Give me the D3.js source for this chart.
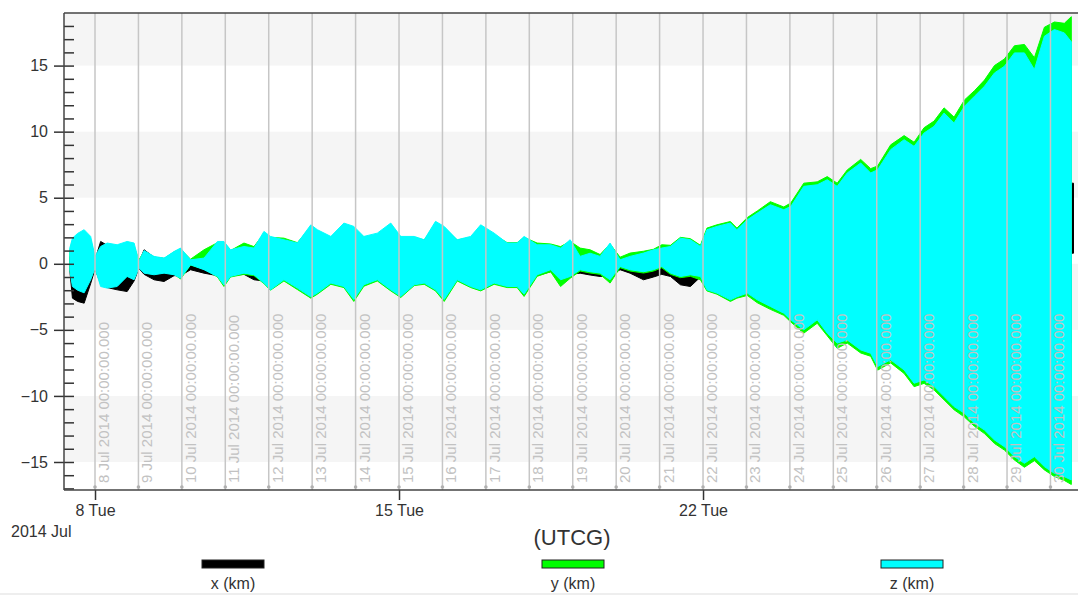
<!DOCTYPE html>
<html>
<head>
<meta charset="utf-8">
<script src="https://cdn.jsdelivr.net/npm/d3@7"></script>
<style>
  body { margin: 0; background: #fff; }
  svg { display: block; font-family: Arial, "Liberation Sans", sans-serif; }
</style>
</head>
<body>
<div id="chart"></div>
<script>
// times are days after 8 Jul 2014 00:00 UTCG
var zDays = [-0.58, -0.52, -0.40, -0.25, -0.10, 0.0, 0.13, 0.28, 0.51, 0.74, 0.90, 1.01, 1.13, 1.36, 1.59, 1.82, 1.97, 2.20, 2.51, 2.82, 2.97, 3.12, 3.43, 3.66, 3.89, 4.04, 4.35, 4.66, 4.97, 5.12, 5.43, 5.73, 5.96, 6.19, 6.50, 6.81, 7.04, 7.35, 7.58, 7.84, 8.04, 8.34, 8.65, 8.88, 9.19, 9.49, 9.72, 9.88, 10.18, 10.49, 10.72, 10.94, 11.17, 11.40, 11.63, 11.86, 12.09, 12.32, 12.63, 12.86, 13.05, 13.25, 13.48, 13.71, 13.94, 14.09, 14.32, 14.63, 14.78, 15.02, 15.25, 15.55, 15.86, 16.02, 16.32, 16.63, 16.86, 17.09, 17.32, 17.63, 17.86, 18.02, 18.32, 18.63, 18.86, 19.09, 19.32, 19.55, 19.78, 20.02, 20.25, 20.48, 20.71, 20.94, 21.17, 21.40, 21.63, 21.86, 22.09, 22.32, 22.48];

var zHigh = [1.2, 1.94, 2.3, 2.58, 2.07, 0.56, 1.31, 1.57, 1.44, 1.69, 1.57, 0.18, 1.0, 0.56, 0.43, 0.93, 1.19, 0.3, 0.43, 1.69, 1.69, 1.06, 1.31, 1.19, 2.45, 2.07, 1.82, 1.57, 2.95, 2.58, 2.07, 3.08, 2.83, 2.07, 2.32, 3.08, 2.07, 2.07, 1.82, 3.21, 2.83, 1.82, 2.07, 2.95, 2.32, 1.57, 1.57, 2.07, 1.44, 1.44, 1.19, 1.82, 0.56, 0.8, 0.56, 1.57, 0.3, 0.56, 0.81, 1.06, 1.19, 1.31, 1.94, 1.82, 1.31, 2.58, 2.83, 3.08, 2.58, 3.33, 3.84, 4.47, 4.09, 4.34, 5.86, 5.98, 6.36, 5.86, 6.87, 7.63, 6.87, 7.12, 8.64, 9.39, 8.89, 9.9, 10.4, 11.41, 10.66, 11.92, 12.68, 13.43, 14.44, 14.95, 15.96, 15.96, 14.7, 17.22, 17.73, 17.47, 16.8];
var zLow = [-0.5, -1.72, -2.0, -2.2, -1.21, -0.33, -1.72, -1.84, -1.72, -0.96, -1.21, -0.33, -0.71, -0.83, -0.71, -0.83, -1.09, -0.08, -0.45, -0.96, -1.6, -0.96, -0.71, -0.83, -1.46, -1.97, -1.21, -1.84, -2.5, -2.22, -1.46, -1.72, -2.7, -1.59, -1.21, -1.97, -2.47, -1.59, -1.46, -1.97, -2.7, -1.21, -1.72, -1.97, -1.46, -1.72, -1.72, -2.3, -0.83, -0.45, -1.21, -0.96, -0.45, -0.6, -0.7, -1.21, -0.2, -0.45, -0.6, -0.45, -0.2, -0.7, -0.96, -0.83, -0.96, -1.97, -2.22, -2.73, -2.5, -2.22, -2.73, -3.23, -3.74, -4.24, -5.0, -4.24, -5.25, -6.0, -5.76, -6.52, -6.77, -7.78, -7.27, -8.03, -9.04, -8.79, -9.29, -10.05, -10.81, -11.31, -12.07, -12.58, -13.33, -13.84, -14.6, -15.1, -14.6, -15.35, -15.86, -16.11, -16.36];

var yHigh = [1.0, 1.7, 2.0, 2.3, 1.8, 0.4, 1.1, 1.3, 1.2, 1.4, 1.3, 0.3, 0.9, 0.5, 0.4, 0.9, 1.1, 0.35, 1.06, 1.6, 1.6, 1.0, 1.57, 1.3, 2.3, 2.0, 1.94, 1.6, 2.8, 2.5, 2.0, 2.9, 2.7, 2.0, 2.2, 2.9, 2.0, 2.0, 1.8, 3.0, 2.7, 1.8, 2.0, 2.8, 2.2, 1.6, 1.6, 2.0, 1.57, 1.5, 1.3, 1.7, 1.19, 1.06, 0.7, 1.5, 0.5, 0.81, 0.95, 1.1, 1.44, 1.4, 2.0, 1.9, 1.4, 2.7, 2.95, 3.2, 2.7, 3.5, 4.0, 4.7, 4.3, 4.6, 6.1, 6.2, 6.6, 6.1, 7.1, 7.9, 7.2, 7.4, 9.0, 9.7, 9.2, 10.3, 10.8, 11.8, 11.1, 12.4, 13.1, 13.9, 15.0, 15.5, 16.5, 16.6, 15.6, 17.9, 18.3, 18.2, 18.7];
var yLow = [-0.4, -1.5, -1.8, -2.0, -1.1, -0.3, -1.5, -1.7, -1.6, -0.9, -1.1, -0.2, -0.6, -0.7, -0.6, -0.8, -1.15, -0.1, -0.4, -1.0, -1.72, -1.0, -0.8, -0.9, -1.5, -2.0, -1.3, -1.95, -2.6, -2.3, -1.55, -1.8, -2.85, -1.7, -1.3, -2.05, -2.55, -1.65, -1.55, -2.05, -2.85, -1.3, -1.8, -2.05, -1.55, -1.8, -1.8, -2.47, -0.95, -0.6, -1.72, -1.1, -0.55, -0.7, -0.8, -1.46, -0.3, -0.55, -0.7, -0.55, -0.3, -0.8, -1.05, -0.95, -1.21, -2.05, -2.3, -2.85, -2.6, -2.4, -2.95, -3.45, -3.9, -4.4, -5.25, -4.5, -5.45, -6.4, -6.0, -6.75, -7.0, -8.05, -7.5, -8.3, -9.3, -9.05, -9.55, -10.3, -11.05, -11.6, -12.3, -12.85, -13.6, -14.1, -14.85, -15.4, -14.9, -15.6, -16.1, -16.4, -16.7];

var xDays = [-0.58, -0.52, -0.40, -0.25, -0.10, 0.0, 0.13, 0.28, 0.51, 0.74, 0.90, 1.01, 1.13, 1.36, 1.59, 1.82, 1.97, 2.20, 2.51, 2.82, 3.12, 3.43, 3.66, 3.89, 4.04, 4.35, 4.66, 5.5, 6.5, 7.5, 8.5, 9.5, 10.18, 10.49, 10.72, 10.94, 11.17, 11.40, 11.63, 11.86, 12.09, 12.32, 12.63, 12.86, 13.05, 13.25, 13.48, 13.71, 13.94, 14.09, 14.32, 14.50, 14.63, 15.0, 17.0, 20.0, 22.48, 22.485, 22.53];
var xHigh = [0.5, 1.0, 1.0, 0.8, 0.5, 0.3, 1.69, 1.4, 1.2, 1.0, 0.8, 0.1, 1.06, 0.5, 0.4, 0.6, 0.8, 0.2, 0.3, 0.5, 0.6, 0.8, 0.8, 1.0, 1.0, 0.8, 0.8, 1.0, 1.0, 1.0, 1.0, 0.8, 0.6, 0.5, 0.5, 0.6, 0.4, 0.4, 0.4, 0.5, 0.2, 0.4, 0.5, 0.5, 0.5, 0.5, 0.8, 0.8, 0.8, 1.0, 1.0, 1.0, 1.0, 1.5, 3.0, 5.0, 6.0, 6.1, 6.1];
var xLow = [-0.5, -2.6, -2.85, -2.98, -1.5, -0.4, -1.5, -1.8, -1.97, -2.1, -1.3, -0.35, -0.8, -1.21, -1.34, -0.9, -0.9, -0.45, -0.71, -0.9, -0.9, -0.8, -1.21, -1.3, -1.72, -1.1, -1.5, -1.3, -1.2, -1.2, -1.1, -1.0, -0.9, -0.6, -1.0, -0.8, -0.71, -0.85, -0.96, -0.9, -0.45, -0.71, -1.21, -1.0, -0.8, -0.96, -1.59, -1.72, -1.0, -1.3, -2.1, -2.2, -2.0, -1.8, -3.0, -5.0, -6.0, 0.8, 0.8];

var series = [
  { name: "x (km)", color: "#000000", days: xDays, low: xLow, high: xHigh, legendX: 233 },
  { name: "y (km)", color: "#00ff00", days: zDays, low: yLow, high: yHigh, legendX: 573 },
  { name: "z (km)", color: "#00ffff", days: zDays, low: zLow, high: zHigh, legendX: 912 }
];

var yMajorTicks = [-15, -10, -5, 0, 5, 10, 15];
var xMajorDays = [0, 7, 14];
var bands = [[15, 20], [5, 10], [-5, 0], [-15, -10]];

var t0 = Date.UTC(2014, 6, 8);
function toDate(d) { return new Date(t0 + d * 864e5); }

var W = 1078, H = 596;
var margin = { top: 13, left: 64, bottom: 106 };
var plotRight = 1080;
var plotBottom = H - margin.bottom;

var svg = d3.select("#chart").append("svg")
  .attr("width", W)
  .attr("height", H);

var xScale = d3.scaleUtc()
  .domain([toDate(-0.714), toDate(22.68)])
  .range([margin.left, plotRight]);
var yScale = d3.scaleLinear()
  .domain([-17.12, 18.98])
  .range([plotBottom, margin.top]);

svg.append("clipPath").attr("id", "plotclip")
  .append("rect")
  .attr("x", margin.left).attr("y", margin.top)
  .attr("width", plotRight - margin.left)
  .attr("height", plotBottom - margin.top);

// alternating background bands
svg.append("g")
  .attr("clip-path", "url(#plotclip)")
  .selectAll("rect")
  .data(bands)
  .join("rect")
  .attr("x", margin.left)
  .attr("width", plotRight - margin.left)
  .attr("y", d => yScale(d[1]))
  .attr("height", d => yScale(d[0]) - yScale(d[1]))
  .attr("fill", "#f5f5f5");

// series envelopes
var area = d3.area()
  .x(d => xScale(toDate(d[0])))
  .y0(d => yScale(d[1]))
  .y1(d => yScale(d[2]));

var dataG = svg.append("g").attr("clip-path", "url(#plotclip)");
series.forEach(function(s) {
  var pts = s.days.map((d, i) => [d, s.low[i], s.high[i]]);
  dataG.append("path")
    .datum(pts)
    .attr("fill", s.color)
    .attr("stroke", s.color)
    .attr("stroke-width", 1)
    .attr("d", area);
});

// daily grid lines with time stamp labels, drawn over the data
var days = d3.utcDay.range(toDate(0), toDate(22.68));
var fmtStamp = d3.utcFormat("%-d %b %Y %H:%M:%S.000");
var grid = svg.append("g");
grid.selectAll("line")
  .data(days)
  .join("line")
  .attr("x1", d => xScale(d)).attr("x2", d => xScale(d))
  .attr("y1", margin.top).attr("y2", plotBottom)
  .attr("stroke", "#c6c6c6")
  .attr("stroke-width", 1.5);
grid.selectAll("circle")
  .data(days)
  .join("circle")
  .attr("cx", d => xScale(d))
  .attr("cy", plotBottom - 3)
  .attr("r", 1.8)
  .attr("fill", "#b0b0b0");
grid.selectAll("text")
  .data(days)
  .join("text")
  .attr("transform", d => `translate(${xScale(d) + 14},${plotBottom - 7}) rotate(-90)`)
  .attr("font-size", 15)
  .attr("fill", "#c2c2c2")
  .text(d => fmtStamp(d));

// y axis: labels on the left, ticks on the inside
svg.append("g")
  .attr("transform", `translate(${margin.left},0)`)
  .call(d3.axisLeft(yScale).tickValues(yMajorTicks).tickSize(10).tickPadding(6).tickFormat(d3.format("d")))
  .call(g => g.select(".domain").remove())
  .call(g => g.selectAll("line").attr("stroke", "#333").attr("stroke-width", 1.5))
  .call(g => g.selectAll("text").attr("font-size", 16).attr("fill", "#333").attr("font-family", null));
svg.append("g")
  .attr("transform", `translate(${margin.left},0)`)
  .call(d3.axisRight(yScale).tickValues(d3.range(-17, 19)).tickSize(10).tickFormat(""))
  .call(g => g.select(".domain").remove())
  .call(g => g.selectAll("line").attr("stroke", "#333").attr("stroke-width", 1.5));

// x axis
svg.append("g")
  .attr("transform", `translate(0,${plotBottom})`)
  .call(d3.axisBottom(xScale).tickValues(xMajorDays.map(toDate)).tickSize(10).tickPadding(5).tickFormat(d3.utcFormat("%-d %a")))
  .call(g => g.select(".domain").remove())
  .call(g => g.selectAll("line").attr("stroke", "#333").attr("stroke-width", 1.5))
  .call(g => g.selectAll("text").attr("font-size", 16).attr("fill", "#333").attr("font-family", null));

// frame
var frame = svg.append("g").attr("stroke", "#444").attr("stroke-width", 1.5);
frame.append("line").attr("x1", margin.left).attr("x2", plotRight).attr("y1", plotBottom).attr("y2", plotBottom);
frame.append("line").attr("x1", margin.left).attr("x2", plotRight).attr("y1", margin.top).attr("y2", margin.top);
frame.append("line").attr("x1", margin.left).attr("x2", margin.left).attr("y1", margin.top).attr("y2", plotBottom);

svg.append("text")
  .attr("x", 11).attr("y", 537)
  .attr("font-size", 16).attr("fill", "#333")
  .text("2014 Jul");

svg.append("text")
  .attr("x", 572).attr("y", 545)
  .attr("text-anchor", "middle")
  .attr("font-size", 22).attr("fill", "#333")
  .text("(UTCG)");

// legend
var legend = svg.append("g").selectAll("g").data(series).join("g");
legend.append("rect")
  .attr("x", d => d.legendX - 31).attr("y", 560)
  .attr("width", 62).attr("height", 8)
  .attr("fill", d => d.color)
  .attr("stroke", "#222").attr("stroke-width", 1);
legend.append("text")
  .attr("x", d => d.legendX).attr("y", 589)
  .attr("text-anchor", "middle")
  .attr("font-size", 16).attr("fill", "#333")
  .text(d => d.name);

svg.append("line")
  .attr("x1", 0).attr("x2", W).attr("y1", 594).attr("y2", 594)
  .attr("stroke", "#ddd").attr("stroke-width", 1);
</script>
</body>
</html>
